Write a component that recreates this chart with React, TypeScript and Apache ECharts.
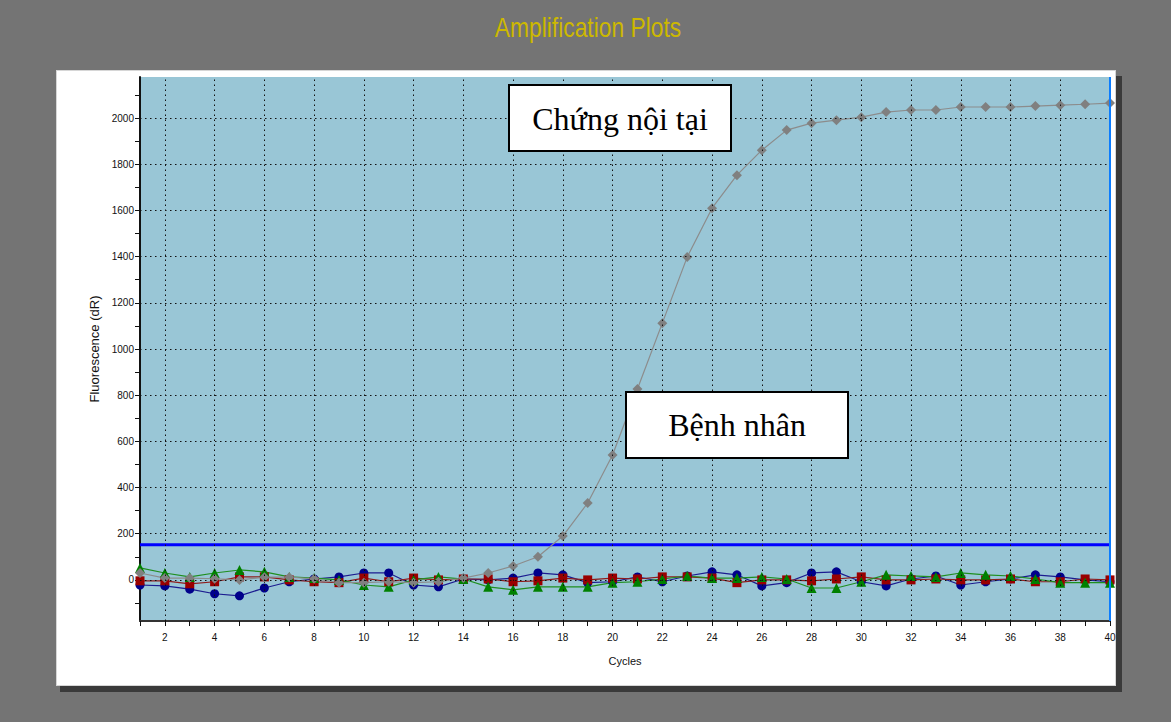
import React, { useEffect, useRef } from "react";
import * as echarts from "echarts";

// PCR cycle numbers (x axis)
const CYCLES = [
  1, 2, 3, 4, 5, 6, 7, 8, 9, 10, 11, 12, 13, 14, 15, 16, 17, 18, 19, 20,
  21, 22, 23, 24, 25, 26, 27, 28, 29, 30, 31, 32, 33, 34, 35, 36, 37, 38, 39, 40,
];

// Fluorescence (dR) per cycle for each well
const INTERNAL_CONTROL = [
  30, 8, 8, 5, 0, 12, 12, 5, -12, -12, -8, -12, -8, 8, 30, 60, 100, 190, 333, 541,
  827, 1112, 1398, 1610, 1753, 1861, 1948, 1978, 1991, 2004, 2026, 2035, 2035, 2048, 2048, 2048, 2052, 2056, 2060, 2065,
];
const WELL_BLUE = [
  -22, -26, -40, -60, -69, -35, -8, 4, 13, 30, 30, -22, -30, 4, 0, 8, 30, 22, -12, -8,
  13, -8, 17, 35, 22, -26, -12, 30, 35, -8, -26, 4, 17, -22, -8, 4, 22, 13, 0, -8,
];
const WELL_RED = [
  -4, -4, -17, -8, 13, 13, 0, -8, -12, 8, -8, 8, 0, 4, 4, -8, -4, 8, 0, 8,
  4, 13, 13, 8, -12, 0, 0, -4, 4, 13, 0, 0, 4, 0, 0, 4, -8, -8, 4, 0,
];
const WELL_GREEN = [
  52, 30, 13, 30, 43, 35, 13, 8, 0, -22, -30, 0, 13, 4, -30, -43, -30, -30, -30, -12,
  -8, 4, 17, 8, 8, 13, 4, -35, -35, -8, 22, 17, 13, 30, 22, 17, 4, -12, -12, -12,
];

const THRESHOLD = 152;

// Axis ticks, labels and grid lines
const X_TICKS = CYCLES;
const X_LABELS = [2, 4, 6, 8, 10, 12, 14, 16, 18, 20, 22, 24, 26, 28, 30, 32, 34, 36, 38, 40];
const Y_TICKS = [-100, 0, 100, 200, 300, 400, 500, 600, 700, 800, 900, 1000, 1100, 1200, 1300, 1400, 1500, 1600, 1700, 1800, 1900, 2000, 2100];
const Y_LABELS = [0, 200, 400, 600, 800, 1000, 1200, 1400, 1600, 1800, 2000];

const Y_MIN = -178;
const Y_MAX = 2178;

const toPoints = (values: number[]) => CYCLES.map((c, i) => [c, values[i]]);

export default function App() {
  const ref = useRef<HTMLDivElement>(null);

  useEffect(() => {
    const chart = echarts.init(ref.current!, null, { renderer: "svg" });
    const tickFont = { fontFamily: "Liberation Sans, Arial, sans-serif", fontSize: 10, color: "#111" };
    const dotted = () => ({ color: "#111", width: 1, type: [1.5, 3.5] });

    // dotted grid at labelled values, plus the solid end-of-run marker at cycle 40
    const gridLines = [
      ...X_LABELS.filter((v) => v < 40).map((v) => ({ xAxis: v, lineStyle: dotted() })),
      ...Y_LABELS.map((v) => ({ yAxis: v, lineStyle: dotted() })),
      { xAxis: 40, lineStyle: { color: "#0a7cff", width: 2, type: "solid" } },
    ];

    chart.setOption({
      animation: false,
      backgroundColor: "transparent",
      grid: {
        left: 140,
        right: 61,
        top: 77,
        bottom: 101,
        show: true,
        backgroundColor: "#99c6d6",
        borderWidth: 0,
      },
      xAxis: [
        {
          type: "value",
          min: 1,
          max: 40,
          position: "bottom",
          name: "Cycles",
          nameLocation: "middle",
          nameGap: 34,
          nameTextStyle: { ...tickFont, fontSize: 11 },
          axisLine: { show: true, onZero: false, lineStyle: { color: "#333", width: 2 } },
          axisTick: { show: true, customValues: X_TICKS, length: 5, lineStyle: { color: "#111", width: 1 } },
          axisLabel: { show: true, customValues: X_LABELS, margin: 11, ...tickFont },
          splitLine: { show: false },
        },
        {
          type: "value",
          min: 1,
          max: 40,
          position: "top",
          axisLine: { show: false },
          axisTick: { show: true, inside: true, customValues: X_LABELS, length: 3, lineStyle: { color: "#111" } },
          axisLabel: { show: false },
          splitLine: { show: false },
        },
      ],
      yAxis: {
        type: "value",
        min: Y_MIN,
        max: Y_MAX,
        position: "left",
        name: "Fluorescence (dR)",
        nameLocation: "middle",
        nameGap: 28,
        nameRotate: 90,
        nameTextStyle: { ...tickFont, fontSize: 13 },
        axisLine: { show: true, onZero: false, lineStyle: { color: "#111", width: 2 } },
        axisTick: { show: true, customValues: Y_TICKS, length: 5, lineStyle: { color: "#111", width: 1 } },
        axisLabel: {
          show: true,
          customValues: Y_LABELS,
          margin: 6,
          formatter: (v: number) => String(v),
          ...tickFont,
        },
        splitLine: { show: false },
      },
      graphic: [
        {
          type: "text",
          x: 588,
          y: 27,
          scaleX: 0.845,
          style: {
            text: "Amplification Plots",
            font: '27px "Liberation Sans", Arial, sans-serif',
            fill: "#cdb800",
            align: "center",
            verticalAlign: "middle",
          },
        },
        {
          type: "rect",
          z: 100,
          shape: { x: 509, y: 85, width: 222, height: 66 },
          style: { fill: "#fff", stroke: "#000", lineWidth: 2 },
        },
        {
          type: "text",
          z: 101,
          x: 620,
          y: 119,
          style: {
            text: "Chứng nội tại",
            font: '32px "Liberation Serif", "Times New Roman", serif',
            fill: "#000",
            align: "center",
            verticalAlign: "middle",
          },
        },
        {
          type: "rect",
          z: 100,
          shape: { x: 626, y: 392, width: 222, height: 66 },
          style: { fill: "#fff", stroke: "#000", lineWidth: 2 },
        },
        {
          type: "text",
          z: 101,
          x: 737,
          y: 425,
          style: {
            text: "Bệnh nhân",
            font: '32px "Liberation Serif", "Times New Roman", serif',
            fill: "#000",
            align: "center",
            verticalAlign: "middle",
          },
        },
      ],
      series: [
        {
          name: "Threshold",
          type: "line",
          data: [
            [CYCLES[0], THRESHOLD],
            [CYCLES[CYCLES.length - 1], THRESHOLD],
          ],
          showSymbol: false,
          symbol: "none",
          lineStyle: { color: "#0000ff", width: 3 },
          silent: true,
          markLine: {
            silent: true,
            symbol: ["none", "none"],
            label: { show: false },
            emphasis: { disabled: true },
            data: gridLines,
          },
        },
        {
          name: "Well 1",
          type: "line",
          data: toPoints(WELL_BLUE),
          symbol: "circle",
          symbolSize: 9,
          itemStyle: { color: "#00008b" },
          lineStyle: { color: "#1c1c90", width: 1.2 },
        },
        {
          name: "Well 2",
          type: "line",
          data: toPoints(WELL_RED),
          symbol: "rect",
          symbolSize: 9,
          itemStyle: { color: "#990000" },
          lineStyle: { color: "#8e1c1c", width: 1.2 },
        },
        {
          name: "Well 3",
          type: "line",
          data: toPoints(WELL_GREEN),
          symbol: "triangle",
          symbolSize: 10,
          itemStyle: { color: "#008000" },
          lineStyle: { color: "#1f8f1f", width: 1.2 },
        },
        {
          name: "Internal control",
          type: "line",
          data: toPoints(INTERNAL_CONTROL),
          symbol: "diamond",
          symbolSize: 10,
          itemStyle: { color: "#808080" },
          lineStyle: { color: "#8c8c8c", width: 1.2 },
        },
      ],
    });

    return () => chart.dispose();
  }, []);

  return (
    <div
      style={{
        position: "fixed",
        left: 0,
        top: 0,
        width: 1171,
        height: 722,
        background: "#747474",
        overflow: "hidden",
      }}
    >
      <div style={{ position: "absolute", left: 60, top: 76, width: 1062, height: 616, background: "#3a3a3a" }} />
      <div
        style={{
          position: "absolute",
          left: 56,
          top: 70,
          width: 1060,
          height: 616,
          background: "#fff",
          boxSizing: "border-box",
          border: "1px solid #d6d6d6",
        }}
      />
      <div ref={ref} style={{ position: "absolute", left: 0, top: 0, width: 1171, height: 722 }} />
    </div>
  );
}
